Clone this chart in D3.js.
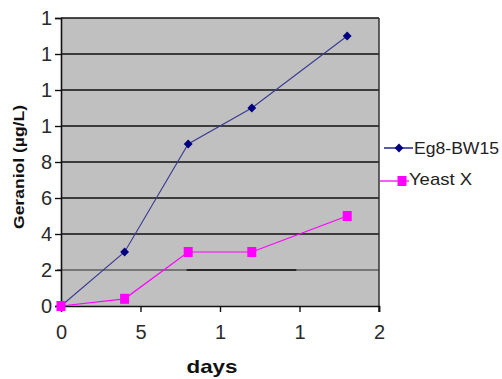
<!DOCTYPE html>
<html>
<head>
<meta charset="utf-8">
<script src="https://cdn.jsdelivr.net/npm/d3@7"></script>
<style>
  body { margin: 0; background: #fff; }
  svg { display: block; }
  text { font-family: "Liberation Sans", Arial, sans-serif; }
</style>
</head>
<body>
<script>
const days = [0, 4, 8, 12, 18];
const eg8 = [0, 3, 9, 11, 15];
const yeast = [0, 0.4, 3, 3, 5];
const yTicks = [0, 2, 4, 6, 8, 10, 12, 14, 16];
const yTickLabels = ["0", "2", "4", "6", "8", "1", "1", "1", "1"];
const xTicks = [0, 5, 10, 15, 20];
const xTickLabels = ["0", "5", "1", "1", "2"];
const seriesNames = ["Eg8-BW15", "Yeast X"];

const W = 502, H = 379;
const svg = d3.select("body").append("svg").attr("width", W).attr("height", H);

const x = d3.scaleLinear().domain([0, 20]).range([61, 379]);
const y = d3.scaleLinear().domain([0, 16]).range([306, 18]);

// plot background
svg.append("rect").attr("x", x(0)).attr("y", y(16))
  .attr("width", x(20) - x(0)).attr("height", y(0) - y(16))
  .attr("fill", "#c0c0c0");

// gridlines
yTicks.filter(v => v > 0).forEach(v => {
  if (v === 2) {
    svg.append("line").attr("x1", x(0) - 4).attr("x2", x(20))
      .attr("y1", y(v)).attr("y2", y(v))
      .attr("stroke", "#5e5e5e").attr("stroke-width", 1.6);
    svg.append("line").attr("x1", x(7.9)).attr("x2", x(14.8))
      .attr("y1", y(v)).attr("y2", y(v))
      .attr("stroke", "#111").attr("stroke-width", 1.6);
  } else {
    svg.append("line").attr("x1", x(0)).attr("x2", x(20))
      .attr("y1", y(v)).attr("y2", y(v))
      .attr("stroke", "#111").attr("stroke-width", 1.6);
  }
});

// right border
svg.append("line").attr("x1", x(20)).attr("x2", x(20))
  .attr("y1", y(16)).attr("y2", y(0) + 6)
  .attr("stroke", "#333").attr("stroke-width", 1.5);

// y axis
const yAxis = d3.axisLeft(y).tickValues(yTicks)
  .tickFormat((d, i) => yTickLabels[i]).tickSize(6).tickPadding(3);
const gy = svg.append("g").attr("transform", `translate(${x(0)},0)`).call(yAxis);
gy.select(".domain").attr("stroke", "#111").attr("stroke-width", 1.6);
gy.selectAll(".tick line").attr("stroke", "#111").attr("stroke-width", 1.4);
gy.selectAll(".tick text").attr("font-size", 20).attr("fill", "#2a2a2a")
  .attr("font-family", "Liberation Sans, Arial, sans-serif").attr("dy", "0.34em");

// x axis
const xAxis = d3.axisBottom(x).tickValues(xTicks)
  .tickFormat((d, i) => xTickLabels[i]).tickSize(6).tickPadding(13);
const gx = svg.append("g").attr("transform", `translate(0,${y(0)})`).call(xAxis);
gx.select(".domain").attr("stroke", "#111").attr("stroke-width", 1.6);
gx.selectAll(".tick line").attr("stroke", "#111").attr("stroke-width", 1.4);
gx.selectAll(".tick text").attr("font-size", 20).attr("fill", "#2a2a2a")
  .attr("font-family", "Liberation Sans, Arial, sans-serif");
gx.selectAll(".tick").filter(d => d === 0).select("line").remove();

// series
const line = d3.line().x(d => x(d[0])).y(d => y(d[1]));
const egPts = days.map((d, i) => [d, eg8[i]]);
const yePts = days.map((d, i) => [d, yeast[i]]);

svg.append("path").datum(yePts).attr("d", line)
  .attr("fill", "none").attr("stroke", "#ff00ff").attr("stroke-width", 1.2);
svg.append("path").datum(egPts).attr("d", line)
  .attr("fill", "none").attr("stroke", "#3a3a90").attr("stroke-width", 1.1);

const diamond = d3.symbol().type(d3.symbolDiamond2).size(50);
svg.selectAll(".eg").data(egPts).enter().append("path")
  .attr("d", diamond).attr("transform", d => `translate(${x(d[0])},${y(d[1])})`)
  .attr("fill", "#000080");
svg.selectAll(".ye").data(yePts).enter().append("rect")
  .attr("x", d => x(d[0]) - 4.5).attr("y", d => y(d[1]) - 5)
  .attr("width", 9).attr("height", 10).attr("fill", "#ff00ff");

// legend
const lg = svg.append("g");
lg.append("line").attr("x1", 384).attr("x2", 413).attr("y1", 148).attr("y2", 148)
  .attr("stroke", "#000080").attr("stroke-width", 1.3);
lg.append("path").attr("d", diamond).attr("transform", "translate(399,148)").attr("fill", "#000080");
lg.append("text").attr("x", 414).attr("y", 153.5).attr("font-size", 16)
  .attr("textLength", 85).attr("lengthAdjust", "spacingAndGlyphs")
  .attr("fill", "#222").text(seriesNames[0]);
lg.append("line").attr("x1", 380).attr("x2", 409).attr("y1", 181).attr("y2", 181)
  .attr("stroke", "#ff00ff").attr("stroke-width", 1.3);
lg.append("rect").attr("x", 397.5).attr("y", 176).attr("width", 9).attr("height", 10).attr("fill", "#ff00ff");
lg.append("text").attr("x", 409).attr("y", 185).attr("font-size", 17)
  .attr("textLength", 63).attr("lengthAdjust", "spacingAndGlyphs")
  .attr("fill", "#222").text(seriesNames[1]);

// axis titles
svg.append("text").attr("x", 212).attr("y", 373).attr("text-anchor", "middle")
  .attr("font-size", 19).attr("font-weight", "bold").attr("fill", "#111")
  .attr("textLength", 51).attr("lengthAdjust", "spacingAndGlyphs").text("days");
svg.append("text").attr("transform", "translate(24,167) rotate(-90)")
  .attr("text-anchor", "middle").attr("font-size", 15).attr("font-weight", "bold").attr("fill", "#111")
  .attr("textLength", 124).attr("lengthAdjust", "spacingAndGlyphs").text("Geraniol (µg/L)");
</script>
</body>
</html>
